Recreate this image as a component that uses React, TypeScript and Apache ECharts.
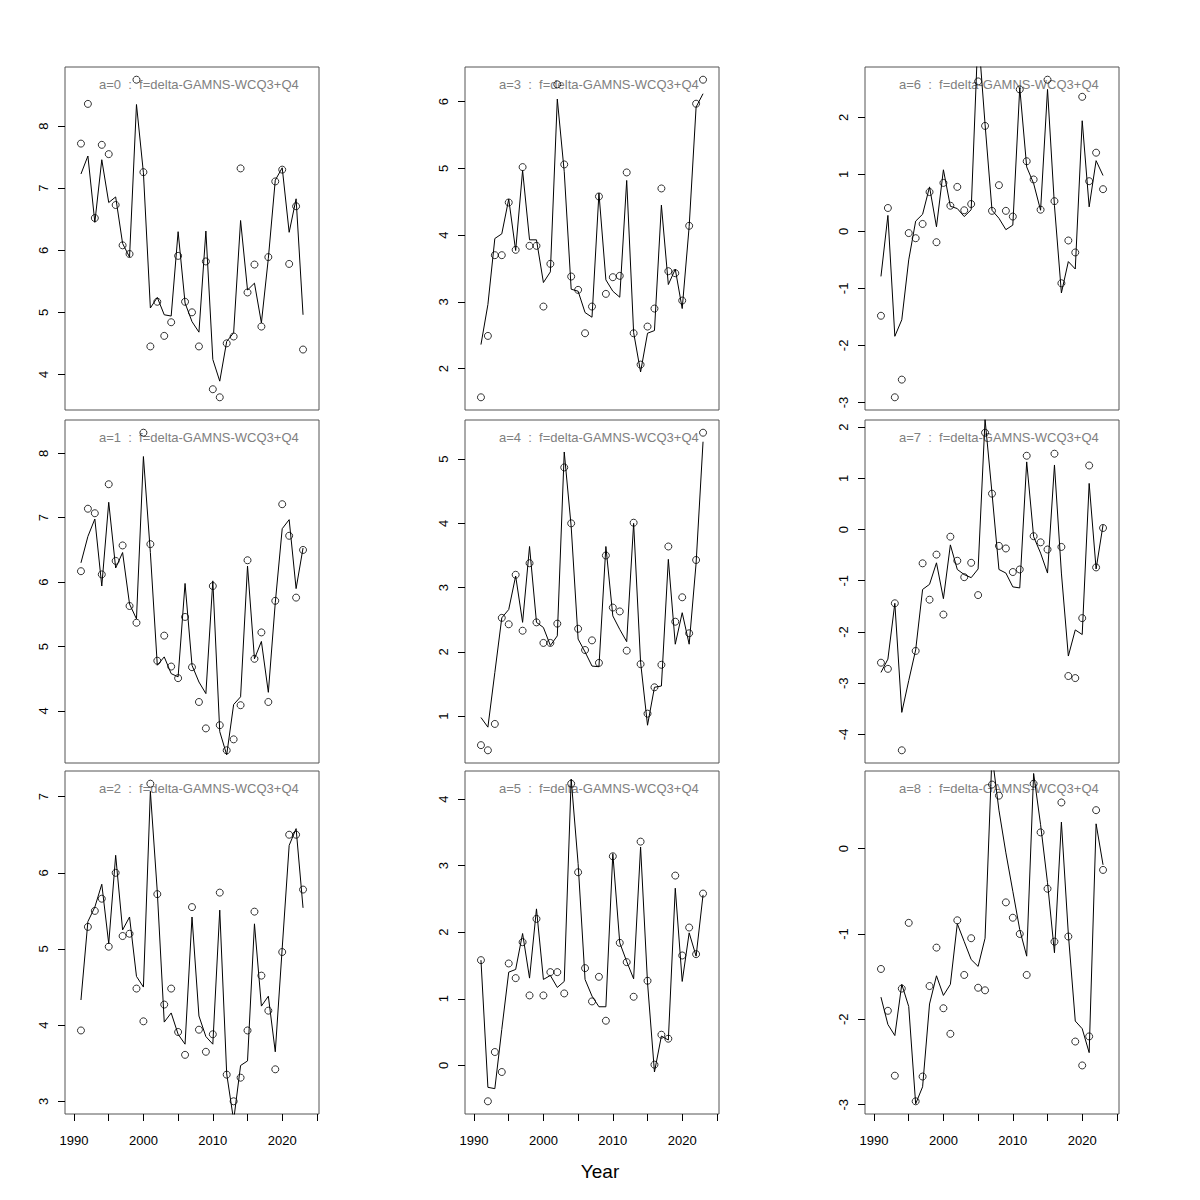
import React, { useEffect, useRef } from "react";
import * as echarts from "echarts";

const years = [1991, 1992, 1993, 1994, 1995, 1996, 1997, 1998, 1999, 2000, 2001, 2002, 2003, 2004, 2005, 2006, 2007, 2008, 2009, 2010, 2011, 2012, 2013, 2014, 2015, 2016, 2017, 2018, 2019, 2020, 2021, 2022, 2023];

const obsA0 = [7.72, 8.36, 6.52, 7.70, 7.55, 6.73, 6.08, 5.94, 8.75, 7.26, 4.45, 5.17, 4.62, 4.84, 5.91, 5.17, 5.00, 4.45, 5.82, 3.76, 3.63, 4.50, 4.61, 7.32, 5.32, 5.77, 4.77, 5.89, 7.11, 7.30, 5.78, 6.71, 4.40];
const fitA0 = [7.23, 7.52, 6.45, 7.46, 6.77, 6.86, 6.11, 5.89, 8.35, 7.25, 5.07, 5.24, 4.96, 4.94, 6.30, 5.15, 4.85, 4.68, 6.31, 4.24, 3.89, 4.53, 4.67, 6.48, 5.36, 5.47, 4.83, 5.87, 7.13, 7.33, 6.29, 6.83, 4.96];

const obsA1 = [6.17, 7.14, 7.07, 6.12, 7.52, 6.33, 6.57, 5.63, 5.37, 8.32, 6.59, 4.78, 5.17, 4.69, 4.51, 5.46, 4.68, 4.14, 3.73, 5.94, 3.78, 3.39, 3.56, 4.09, 6.34, 4.81, 5.22, 4.14, 5.71, 7.21, 6.72, 5.76, 6.50];
const fitA1 = [6.30, 6.71, 6.98, 5.94, 7.24, 6.22, 6.46, 5.66, 5.43, 7.95, 6.46, 4.71, 4.84, 4.58, 4.53, 5.98, 4.71, 4.45, 4.27, 6.02, 3.68, 3.32, 4.10, 4.22, 6.25, 4.81, 5.08, 4.29, 5.68, 6.83, 6.97, 5.90, 6.53];

const obsA2 = [3.93, 5.29, 5.50, 5.66, 5.03, 6.00, 5.17, 5.20, 4.48, 4.05, 7.17, 5.72, 4.27, 4.48, 3.91, 3.61, 5.55, 3.94, 3.65, 3.88, 5.74, 3.35, 3.00, 3.31, 3.93, 5.49, 4.65, 4.19, 3.42, 4.96, 6.50, 6.50, 5.78];
const fitA2 = [4.33, 5.36, 5.55, 5.85, 5.07, 6.23, 5.25, 5.42, 4.64, 4.50, 7.07, 5.75, 4.04, 4.16, 3.88, 3.75, 5.42, 4.12, 3.85, 3.75, 5.51, 3.36, 2.75, 3.47, 3.53, 5.33, 4.25, 4.38, 3.65, 5.01, 6.36, 6.58, 5.54];

const obsA3 = [1.57, 2.49, 3.70, 3.70, 4.49, 3.78, 5.02, 3.84, 3.84, 2.93, 3.57, 6.26, 5.06, 3.38, 3.18, 2.53, 2.93, 4.58, 3.12, 3.37, 3.39, 4.94, 2.53, 2.06, 2.63, 2.90, 4.70, 3.46, 3.43, 3.02, 4.14, 5.97, 6.33];
const fitA3 = [2.36, 2.96, 3.95, 4.02, 4.54, 3.77, 4.97, 3.93, 3.93, 3.29, 3.45, 6.04, 4.95, 3.19, 3.16, 2.84, 2.77, 4.63, 3.33, 3.16, 3.07, 4.82, 2.54, 1.95, 2.53, 2.57, 4.45, 3.26, 3.49, 2.90, 4.13, 5.92, 6.12];

const obsA4 = [0.55, 0.47, 0.88, 2.53, 2.43, 3.20, 2.33, 3.38, 2.46, 2.14, 2.14, 2.44, 4.87, 4.00, 2.36, 2.03, 2.18, 1.83, 3.50, 2.69, 2.63, 2.02, 4.01, 1.81, 1.04, 1.45, 1.80, 3.64, 2.47, 2.85, 2.29, 3.43, 5.41];
const fitA4 = [0.98, 0.83, 1.68, 2.53, 2.66, 3.18, 2.46, 3.64, 2.46, 2.38, 2.10, 2.25, 5.11, 3.95, 2.20, 2.00, 1.78, 1.77, 3.64, 2.56, 2.35, 2.16, 4.00, 1.84, 0.86, 1.45, 1.47, 3.44, 2.12, 2.61, 2.12, 3.38, 5.27];

const obsA5 = [1.58, -0.54, 0.20, -0.10, 1.53, 1.31, 1.85, 1.05, 2.20, 1.05, 1.40, 1.40, 1.08, 4.23, 2.90, 1.46, 0.96, 1.33, 0.67, 3.14, 1.84, 1.55, 1.03, 3.36, 1.27, 0.01, 0.46, 0.40, 2.85, 1.65, 2.07, 1.67, 2.58];
const fitA5 = [1.58, -0.33, -0.35, 0.54, 1.40, 1.44, 1.98, 1.31, 2.35, 1.29, 1.35, 1.17, 1.26, 4.30, 3.03, 1.29, 1.04, 0.88, 0.88, 3.18, 1.84, 1.56, 1.30, 3.28, 1.24, -0.10, 0.44, 0.38, 2.66, 1.26, 1.99, 1.64, 2.56];

const obsA6 = [-1.48, 0.41, -2.91, -2.60, -0.03, -0.12, 0.13, 0.69, -0.19, 0.85, 0.45, 0.78, 0.37, 0.48, 2.63, 1.85, 0.36, 0.81, 0.36, 0.26, 2.49, 1.23, 0.91, 0.38, 2.66, 0.53, -0.91, -0.16, -0.37, 2.36, 0.88, 1.38, 0.74];
const fitA6 = [-0.79, 0.28, -1.84, -1.55, -0.50, 0.18, 0.30, 0.78, 0.08, 1.08, 0.44, 0.40, 0.26, 0.38, 3.50, 1.88, 0.37, 0.23, 0.03, 0.11, 2.52, 1.13, 0.84, 0.37, 2.49, 0.45, -1.08, -0.53, -0.66, 1.94, 0.43, 1.24, 0.98];

const obsA7 = [-2.60, -2.72, -1.44, -4.31, null, -2.37, -0.66, -1.37, -0.49, -1.66, -0.14, -0.61, -0.93, -0.65, -1.28, 1.89, 0.70, -0.32, -0.37, -0.83, -0.78, 1.44, -0.13, -0.25, -0.39, 1.48, -0.34, -2.86, -2.90, -1.73, 1.25, -0.74, 0.03];
const fitA7 = [-2.79, -2.53, -1.44, -3.57, -2.95, -2.35, -1.17, -1.07, -0.65, -1.35, -0.30, -0.78, -0.88, -0.94, -0.77, 2.15, 0.71, -0.78, -0.85, -1.12, -1.14, 1.32, -0.14, -0.46, -0.85, 1.26, -0.85, -2.47, -1.96, -2.05, 0.90, -0.77, 0.09];

const obsA8 = [-1.41, -1.90, -2.66, -1.64, -0.87, -2.96, -2.67, -1.61, -1.16, -1.87, -2.17, -0.84, -1.48, -1.05, -1.63, -1.66, 0.75, 0.62, -0.63, -0.81, -1.00, -1.48, 0.76, 0.19, -0.47, -1.09, 0.54, -1.03, -2.26, -2.54, -2.20, 0.45, -0.25];
const fitA8 = [-1.74, -2.06, -2.19, -1.59, -1.85, -2.99, -2.79, -1.82, -1.49, -1.72, -1.59, -0.88, -1.09, -1.30, -1.38, -1.05, 1.10, 0.45, -0.05, -0.50, -0.95, -1.26, 0.88, 0.28, -0.40, -1.22, 0.31, -1.00, -2.02, -2.11, -2.39, 0.29, -0.19];

const panelNames = ["a=0", "a=1", "a=2", "a=3", "a=4", "a=5", "a=6", "a=7", "a=8"];
const modelName = "f=delta-GAMNS-WCQ3+Q4";
const observed = [obsA0, obsA1, obsA2, obsA3, obsA4, obsA5, obsA6, obsA7, obsA8];
const fitted = [fitA0, fitA1, fitA2, fitA3, fitA4, fitA5, fitA6, fitA7, fitA8];

const xTicks = [1990, 1995, 2000, 2005, 2010, 2015, 2020, 2025];
const xLabels = [1990, 2000, 2010, 2020];
const xMin = 1988.7;
const xMax = 2025.3;
const xTitle = "Year";

const FONT = "'Liberation Sans', Arial, Helvetica, sans-serif";
const colLeft = [65, 465, 865];
const rowTop = [67, 420, 771];
const W = 254;
const H = 343;

function buildOption() {
  const grids: any[] = [];
  const xAxes: any[] = [];
  const yAxes: any[] = [];
  const series: any[] = [];
  const graphics: any[] = [];

  for (let i = 0; i < 9; i++) {
    const col = Math.floor(i / 3);
    const row = i % 3;
    const obs = observed[i];
    const fit = fitted[i];
    const vals = obs.filter((v) => v !== null) as number[];
    const lo = Math.min(...vals);
    const hi = Math.max(...vals);
    const pad = (hi - lo) * 0.04;
    const yMin = lo - pad;
    const yMax = hi + pad;
    const yTicks: number[] = [];
    for (let t = Math.ceil(yMin); t <= Math.floor(yMax); t++) yTicks.push(t);

    grids.push({
      left: colLeft[col],
      top: rowTop[row],
      width: W,
      height: H,
      show: true,
      borderColor: "#555",
      borderWidth: 1,
      backgroundColor: "transparent",
    });
    const bottom = row === 2;
    xAxes.push({
      gridIndex: i,
      type: "value",
      position: "bottom",
      min: xMin,
      max: xMax,
      axisLine: { show: false, onZero: false },
      splitLine: { show: false },
      axisTick: {
        show: bottom,
        length: 7,
        lineStyle: { color: "#000", width: 1 },
        customValues: xTicks,
      },
      axisLabel: {
        show: bottom,
        margin: 20,
        fontSize: 13,
        fontFamily: FONT,
        color: "#000",
        customValues: xLabels,
        formatter: (v: number) => String(v),
      },
    });
    yAxes.push({
      gridIndex: i,
      type: "value",
      position: "left",
      min: yMin,
      max: yMax,
      axisLine: { show: false, onZero: false },
      splitLine: { show: false },
      axisTick: {
        show: true,
        length: 7,
        lineStyle: { color: "#000", width: 1 },
        customValues: yTicks,
      },
      axisLabel: {
        show: true,
        rotate: 90,
        margin: 15,
        fontSize: 13,
        fontFamily: FONT,
        color: "#000",
        customValues: yTicks,
        formatter: (v: number) => String(v),
      },
    });
    series.push({
      type: "line",
      xAxisIndex: i,
      yAxisIndex: i,
      data: years.map((y, k) => [y, fit[k]]),
      showSymbol: false,
      symbol: "none",
      clip: true,
      lineStyle: { color: "#000", width: 1 },
      silent: true,
    });
    series.push({
      type: "scatter",
      xAxisIndex: i,
      yAxisIndex: i,
      data: years.map((y, k) => [y, obs[k]]).filter((d) => d[1] !== null),
      symbol: "circle",
      symbolSize: 7,
      clip: false,
      itemStyle: { color: "rgba(0,0,0,0)", borderColor: "#000", borderWidth: 1 },
      silent: true,
    });
    graphics.push({
      type: "text",
      x: colLeft[col] + 34,
      y: rowTop[row] + 17,
      style: {
        text: panelNames[i] + "  :  " + modelName,
        fill: "#808080",
        font: "13px " + FONT,
        align: "left",
        verticalAlign: "middle",
      },
      silent: true,
    });
  }
  graphics.push({
    type: "text",
    x: 600,
    y: 1171,
    style: {
      text: xTitle,
      fill: "#000",
      font: "19px " + FONT,
      align: "center",
      verticalAlign: "middle",
    },
    silent: true,
  });

  return {
    animation: false,
    backgroundColor: "#fff",
    grid: grids,
    xAxis: xAxes,
    yAxis: yAxes,
    series,
    graphic: graphics,
  };
}

export default function App() {
  const ref = useRef<HTMLDivElement>(null);
  useEffect(() => {
    if (!ref.current) return;
    const chart = echarts.init(ref.current, null, { renderer: "svg" });
    chart.setOption(buildOption() as any);
    return () => chart.dispose();
  }, []);
  return (
    <div
      ref={ref}
      style={{ position: "absolute", left: 0, top: 0, width: 1200, height: 1200 }}
    />
  );
}
